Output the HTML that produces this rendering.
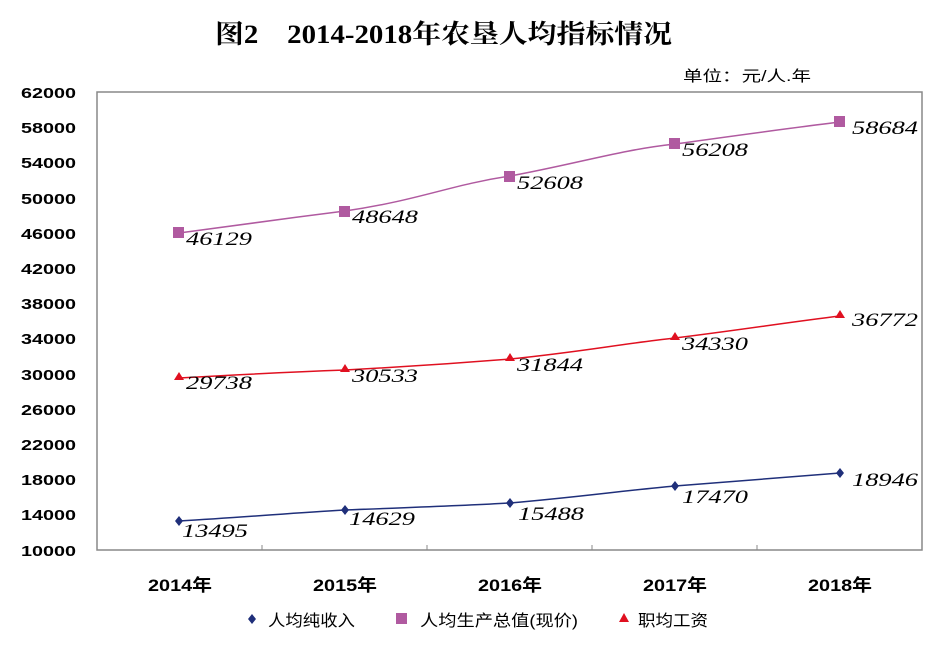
<!DOCTYPE html>
<html><head><meta charset="utf-8"><style>
body{margin:0;background:#fff;width:940px;height:649px;overflow:hidden}
</style></head><body>
<svg width="940" height="649" xmlns="http://www.w3.org/2000/svg">
<text x="215" y="43" textLength="457" lengthAdjust="spacingAndGlyphs" font-family="'Liberation Serif','Noto Serif CJK SC',serif" font-size="26" font-weight="bold" fill="#000">图2　2014-2018年农垦人均指标情况</text>
<text x="683" y="81" textLength="128" lengthAdjust="spacingAndGlyphs" font-family="'Liberation Sans','Noto Sans CJK SC',sans-serif" font-size="15" fill="#000">单位：元/人.年</text>
<rect x="97" y="92" width="825" height="458" fill="none" stroke="#888" stroke-width="1.5"/>
<g font-family="'Liberation Sans',sans-serif" font-size="15" font-weight="bold" fill="#000">
<text x="21" y="98" textLength="55" lengthAdjust="spacingAndGlyphs">62000</text><text x="21" y="133" textLength="55" lengthAdjust="spacingAndGlyphs">58000</text><text x="21" y="168" textLength="55" lengthAdjust="spacingAndGlyphs">54000</text><text x="21" y="204" textLength="55" lengthAdjust="spacingAndGlyphs">50000</text><text x="21" y="239" textLength="55" lengthAdjust="spacingAndGlyphs">46000</text><text x="21" y="274" textLength="55" lengthAdjust="spacingAndGlyphs">42000</text><text x="21" y="309" textLength="55" lengthAdjust="spacingAndGlyphs">38000</text><text x="21" y="344" textLength="55" lengthAdjust="spacingAndGlyphs">34000</text><text x="21" y="380" textLength="55" lengthAdjust="spacingAndGlyphs">30000</text><text x="21" y="415" textLength="55" lengthAdjust="spacingAndGlyphs">26000</text><text x="21" y="450" textLength="55" lengthAdjust="spacingAndGlyphs">22000</text><text x="21" y="485" textLength="55" lengthAdjust="spacingAndGlyphs">18000</text><text x="21" y="520" textLength="55" lengthAdjust="spacingAndGlyphs">14000</text><text x="21" y="556" textLength="55" lengthAdjust="spacingAndGlyphs">10000</text>
</g>
<g stroke="#888" stroke-width="1">
<line x1="262" y1="545" x2="262" y2="550"/><line x1="427" y1="545" x2="427" y2="550"/><line x1="592" y1="545" x2="592" y2="550"/><line x1="757" y1="545" x2="757" y2="550"/>
</g>
<g font-family="'Liberation Sans','Noto Sans CJK SC',sans-serif" font-size="17" font-weight="bold" fill="#000">
<text x="148" y="591" textLength="64" lengthAdjust="spacingAndGlyphs">2014年</text><text x="313" y="591" textLength="64" lengthAdjust="spacingAndGlyphs">2015年</text><text x="478" y="591" textLength="64" lengthAdjust="spacingAndGlyphs">2016年</text><text x="643" y="591" textLength="64" lengthAdjust="spacingAndGlyphs">2017年</text><text x="808" y="591" textLength="64" lengthAdjust="spacingAndGlyphs">2018年</text>
</g>
<path d="M179,233 C260,222 290,218 345,211 C420,200 450,185 510,176 C580,163 620,150 675,144 C740,135 790,128 840,122" fill="none" stroke="#b05aa0" stroke-width="1.5"/>
<g fill="#b05aa0"><rect x="173" y="227" width="11" height="11"/><rect x="339" y="206" width="11" height="11"/><rect x="504" y="171" width="11" height="11"/><rect x="669" y="138" width="11" height="11"/><rect x="834" y="116" width="11" height="11"/></g>
<path d="M179,378 C250,374 290,372 345,370 C420,366 460,363 510,359 C580,352 620,344 675,338 C740,330 790,322 840,316" fill="none" stroke="#e01020" stroke-width="1.5"/>
<g fill="#e01020"><path d="M179,372l5,8h-10z"/><path d="M345,364l5,8h-10z"/><path d="M510,353l5,8h-10z"/><path d="M675,332l5,8h-10z"/><path d="M840,310l5,8h-10z"/></g>
<path d="M179,521 C250,517 290,513 345,510 C420,507 460,506 510,503 C580,497 620,491 675,486 C740,481 790,477 840,473" fill="none" stroke="#1f2f7a" stroke-width="1.5"/>
<g fill="#1f2f7a"><path d="M179,516l4,5l-4,5l-4,-5z"/><path d="M345,505l4,5l-4,5l-4,-5z"/><path d="M510,498l4,5l-4,5l-4,-5z"/><path d="M675,481l4,5l-4,5l-4,-5z"/><path d="M840,468l4,5l-4,5l-4,-5z"/></g>
<g font-family="'Liberation Serif',serif" font-size="19" font-style="italic" fill="#000">
<text x="186" y="245" textLength="66" lengthAdjust="spacingAndGlyphs">46129</text><text x="352" y="223" textLength="66" lengthAdjust="spacingAndGlyphs">48648</text><text x="517" y="189" textLength="66" lengthAdjust="spacingAndGlyphs">52608</text><text x="682" y="156" textLength="66" lengthAdjust="spacingAndGlyphs">56208</text><text x="852" y="134" textLength="66" lengthAdjust="spacingAndGlyphs">58684</text>
<text x="186" y="389" textLength="66" lengthAdjust="spacingAndGlyphs">29738</text><text x="352" y="382" textLength="66" lengthAdjust="spacingAndGlyphs">30533</text><text x="517" y="371" textLength="66" lengthAdjust="spacingAndGlyphs">31844</text><text x="682" y="350" textLength="66" lengthAdjust="spacingAndGlyphs">34330</text><text x="852" y="326" textLength="66" lengthAdjust="spacingAndGlyphs">36772</text>
<text x="182" y="537" textLength="66" lengthAdjust="spacingAndGlyphs">13495</text><text x="349" y="525" textLength="66" lengthAdjust="spacingAndGlyphs">14629</text><text x="518" y="520" textLength="66" lengthAdjust="spacingAndGlyphs">15488</text><text x="682" y="503" textLength="66" lengthAdjust="spacingAndGlyphs">17470</text><text x="852" y="486" textLength="66" lengthAdjust="spacingAndGlyphs">18946</text>
</g>
<g font-family="'Liberation Sans','Noto Sans CJK SC',sans-serif" font-size="16" fill="#000">
<path d="M252,614l4,5l-4,5l-4,-5z" fill="#1f2f7a"/><text x="268" y="626" textLength="87" lengthAdjust="spacingAndGlyphs">人均纯收入</text>
<rect x="396" y="613" width="11" height="11" fill="#b05aa0"/><text x="420" y="626" textLength="158" lengthAdjust="spacingAndGlyphs">人均生产总值(现价)</text>
<path d="M624,613l5,9h-10z" fill="#e01020"/><text x="638" y="626" textLength="70" lengthAdjust="spacingAndGlyphs">职均工资</text>
</g>
</svg>
</body></html>
